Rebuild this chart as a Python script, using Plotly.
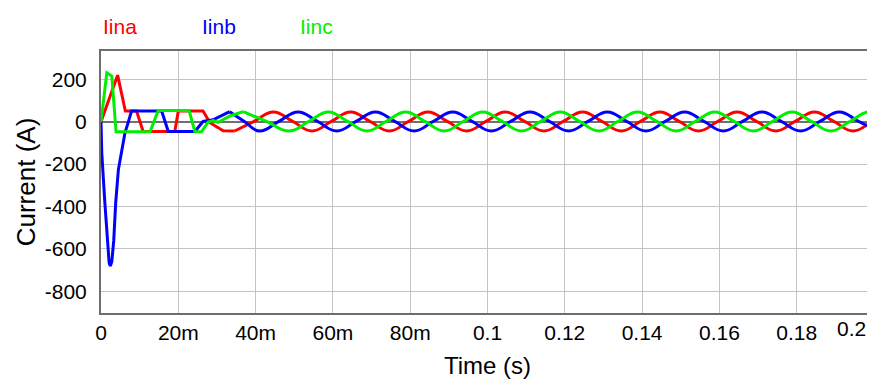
import plotly.graph_objects as go

# ---------------- data ----------------
series_names = ["Iina", "Iinb", "Iinc"]
series_colors = ["#ff0000", "#0000ff", "#00ee00"]

# start-up transient (linear segments)
ina_t_tr = [0, 0.0023, 0.0043, 0.0063, 0.0092, 0.0109, 0.0191, 0.0200, 0.0264, 0.0282, 0.0316, 0.0346]
ina_v_tr = [0, 119, 219, 50, 50, -46, -46, 50, 50, -5, -43, -44]

inb_t_tr = [0, 0.0002, 0.0010, 0.0017, 0.0021, 0.0024, 0.0028, 0.0033, 0.0038, 0.0045, 0.0053, 0.0062,
            0.0071, 0.0079, 0.0157, 0.0174, 0.0243, 0.0264, 0.0290, 0.0333]
inb_v_tr = [0, -147, -383, -587, -665, -681, -660, -560, -383, -226, -146, -53,
            0, 50, 50, -46, -46, 1, 9, 47]

inc_t_tr = [0, 0.0015, 0.0028, 0.0039, 0.0127, 0.0148, 0.0228, 0.0243, 0.0260, 0.0277, 0.0290, 0.0303,
            0.0335, 0.0368]
inc_v_tr = [0, 230, 215, -48, -48, 52, 52, -48, -48, -2, 5, -3,
            28, 47]

# steady state (peaks, troughs and zero crossings, smoothed)
ina_t_ss = [0.0346, 0.0396, 0.0446, 0.0496, 0.0546, 0.0596, 0.0646, 0.0696, 0.0746, 0.0796,
            0.0846, 0.0896, 0.0946, 0.0996, 0.1046, 0.1096, 0.1146, 0.1196, 0.1246, 0.1296,
            0.1346, 0.1396, 0.1446, 0.1496, 0.1546, 0.1596, 0.1646, 0.1696, 0.1746, 0.1796,
            0.1846, 0.1896, 0.1946, 0.1996, 0.2046]
ina_v_ss = [-44, 1, 46, 1, -44, 1, 46, 1, -44, 1,
            46, 1, -44, 1, 46, 1, -44, 1, 46, 1,
            -44, 1, 46, 1, -44, 1, 46, 1, -44, 1,
            46, 1, -44, 1, 46]

inb_t_ss = [0.0333, 0.0371, 0.0410, 0.0460, 0.0510, 0.0560, 0.0610, 0.0660, 0.0710, 0.0760,
            0.0810, 0.0860, 0.0910, 0.0960, 0.1010, 0.1060, 0.1110, 0.1160, 0.1210, 0.1260,
            0.1310, 0.1360, 0.1410, 0.1460, 0.1510, 0.1560, 0.1610, 0.1660, 0.1710, 0.1760,
            0.1810, 0.1860, 0.1910, 0.1960, 0.2010]
inb_v_ss = [47, 1, -44, 1, 46, 1, -44, 1, 46, 1,
            -44, 1, 46, 1, -44, 1, 46, 1, -44, 1,
            46, 1, -44, 1, 46, 1, -44, 1, 46, 1,
            -44, 1, 46, 1, -44]

inc_t_ss = [0.0368, 0.0428, 0.0488, 0.0538, 0.0588, 0.0638, 0.0688, 0.0738, 0.0788, 0.0838,
            0.0888, 0.0938, 0.0988, 0.1038, 0.1088, 0.1138, 0.1188, 0.1238, 0.1288, 0.1338,
            0.1388, 0.1438, 0.1488, 0.1538, 0.1588, 0.1638, 0.1688, 0.1738, 0.1788, 0.1838,
            0.1888, 0.1938, 0.1988, 0.2038]
inc_v_ss = [47, 1, -44, 1, 46, 1, -44, 1, 46, 1,
            -44, 1, 46, 1, -44, 1, 46, 1, -44, 1,
            46, 1, -44, 1, 46, 1, -44, 1, 46, 1,
            -44, 1, 46, 1]

x_tick_vals = [0, 0.02, 0.04, 0.06, 0.08, 0.10, 0.12, 0.14, 0.16, 0.18, 0.20]
x_tick_text = ["0", "20m", "40m", "60m", "80m", "0.1", "0.12", "0.14", "0.16", "0.18", ""]
last_x_label = "0.2"
y_tick_vals = [-800, -600, -400, -200, 0, 200]
y_tick_text = ["-800", "-600", "-400", "-200", "0", "200"]

# ---------------- figure ----------------
FONT = "Arial, 'Liberation Sans', sans-serif"
fig = go.Figure()

transients = [(ina_t_tr, ina_v_tr), (inb_t_tr, inb_v_tr), (inc_t_tr, inc_v_tr)]
steadies = [(ina_t_ss, ina_v_ss), (inb_t_ss, inb_v_ss), (inc_t_ss, inc_v_ss)]

for name, color, (tt, vt), (ts, vs) in zip(series_names, series_colors, transients, steadies):
    fig.add_trace(go.Scatter(x=tt, y=vt, mode="lines", name=name, legendgroup=name,
                             line=dict(color=color, width=3), showlegend=False))
    fig.add_trace(go.Scatter(x=ts, y=vs, mode="lines", name=name, legendgroup=name,
                             line=dict(color=color, width=3, shape="spline", smoothing=1.3),
                             showlegend=False))

legend_x = [0.0, 0.128, 0.255]
for name, color, lx in zip(series_names, series_colors, legend_x):
    fig.add_annotation(text=name, x=lx, y=1.092, xref="paper", yref="paper",
                       xanchor="left", yanchor="middle", showarrow=False,
                       font=dict(family=FONT, size=21, color=color))

fig.add_annotation(text=last_x_label, x=0.2, y=0, xref="x", yref="paper",
                   xanchor="right", yanchor="top", yshift=-2, xshift=-6, showarrow=False,
                   font=dict(family=FONT, size=21, color="black"))

# the page body has an 8 px margin, so the figure is sized to end at the window edge
fig.update_layout(
    width=867, height=371,
    margin=dict(l=93, r=1, t=43, b=66),
    paper_bgcolor="white", plot_bgcolor="white",
    font=dict(family=FONT, size=21, color="black"),
    showlegend=False,
)
fig.update_xaxes(
    range=[0, 0.2], tickvals=x_tick_vals, ticktext=x_tick_text,
    showgrid=True, gridcolor="#c4c4c4", gridwidth=1,
    showline=True, linecolor="#6e6e6e", linewidth=2, mirror=True,
    ticks="", zeroline=False,
    title=dict(text="Time (s)", font=dict(family=FONT, size=24), standoff=15),
    automargin=False,
)
fig.update_yaxes(
    range=[-902, 333], tickvals=y_tick_vals, ticktext=y_tick_text,
    showgrid=True, gridcolor="#c4c4c4", gridwidth=1,
    showline=True, linecolor="#6e6e6e", linewidth=2, mirror=False,
    zeroline=True, zerolinecolor="#707070", zerolinewidth=1.5,
    ticks="", ticklabelstandoff=8,
    title=dict(text="Current (A)", font=dict(family=FONT, size=26), standoff=2),
    automargin=False,
)

fig.write_html("out.html")
